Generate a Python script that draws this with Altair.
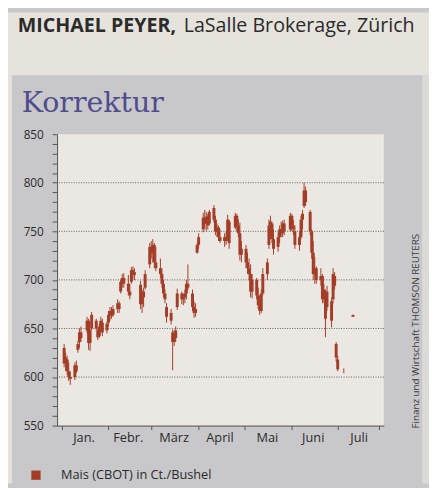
import altair as alt
import pandas as pd

# ---------------- texts ----------------
HEADER_BOLD = "MICHAEL PEYER,"
HEADER_REGULAR = "LaSalle Brokerage, Zürich"
TITLE = "Korrektur"
SOURCE = "Finanz und Wirtschaft THOMSON REUTERS"
SERIES = "Mais (CBOT) in Ct./Bushel"

MONTH_LABELS = ["Jan.", "Febr.", "März", "April", "Mai", "Juni", "Juli"]
LABEL_DATES = ["2011-01-16", "2011-02-14", "2011-03-16", "2011-04-15",
               "2011-05-16", "2011-06-15", "2011-07-15"]
GRID_VALUES = [600, 650, 700, 750, 800]

# ---------------- trading days (2011) ----------------
TRADING_DAYS = {
    1: [3, 4, 5, 6, 7, 10, 11, 12, 13, 14, 18, 19, 20, 21, 24, 25, 26, 27, 28, 31],
    2: [1, 2, 3, 4, 7, 8, 9, 10, 11, 14, 15, 16, 17, 18, 22, 23, 24, 25, 28],
    3: [1, 2, 3, 4, 7, 8, 9, 10, 11, 14, 15, 16, 17, 18, 21, 22, 23, 24, 25, 28, 29, 30, 31],
    4: [1, 4, 5, 6, 7, 8, 11, 12, 13, 14, 15, 18, 19, 20, 21, 25, 26, 27, 28, 29],
    5: [2, 3, 4, 5, 6, 9, 10, 11, 12, 13, 16, 17, 18, 19, 20, 23, 24, 25, 26, 27, 31],
    6: [1, 2, 3, 6, 7, 8, 9, 10, 13, 14, 15, 16, 17, 20, 21, 22, 23, 24, 27, 28, 29, 30],
    7: [1, 5, 11],
}

OPEN = [
    630, 614, 618, 606, 600, 600, 612, 628, 636, 646, 648, 658, 635, 650, 658, 648, 642, 652, 656, 648,
    656, 664, 668, 664, 670, 676, 688, 698, 702, 696, 688, 698, 710, 705, 695, 675, 682, 692, 716,
    734, 728, 736, 718, 712, 706, 696, 686, 672, 666, 646, 636, 640, 672, 686, 680, 682, 686, 696, 686, 672, 666, 728,
    736, 752, 764, 758, 765, 758, 774, 762, 750, 754, 744, 740, 744, 742, 760, 754, 766, 756, 748, 726,
    732, 718, 712, 706, 688, 700, 684, 674, 668, 686, 706, 736, 756, 758, 742, 734, 744, 752, 748, 758, 752,
    766, 756, 750, 736, 744, 762, 776, 792, 770, 750, 728, 706, 712, 700, 704, 680, 684, 672, 678, 680, 704, 634,
    618, 606, 662,
]
HIGH = [
    634, 625, 622, 615, 606, 615, 617, 637, 650, 652, 662, 660, 650, 667, 660, 650, 655, 662, 660, 657,
    668, 672, 672, 674, 680, 678, 700, 706, 707, 705, 696, 713, 714, 712, 699, 690, 692, 710, 738,
    740, 742, 738, 734, 722, 712, 700, 690, 676, 670, 649, 648, 652, 691, 688, 686, 690, 700, 716, 690, 678, 676, 738,
    748, 769, 772, 770, 768, 772, 777, 766, 758, 756, 752, 748, 750, 767, 762, 769, 768, 762, 759, 740,
    736, 728, 722, 716, 706, 702, 692, 684, 690, 712, 722, 762, 766, 760, 752, 749, 756, 760, 761, 762, 769,
    768, 762, 756, 750, 766, 772, 800, 796, 772, 752, 740, 724, 714, 712, 706, 696, 690, 694, 682, 712, 708, 636,
    622, 609, 664,
]
LOW = [
    610, 606, 602, 596, 592, 597, 604, 625, 630, 636, 645, 628, 627, 648, 648, 638, 640, 645, 642, 645,
    652, 658, 660, 662, 666, 666, 686, 692, 692, 684, 680, 696, 701, 700, 670, 666, 672, 690, 712,
    722, 718, 712, 709, 702, 692, 682, 676, 656, 654, 607, 632, 636, 669, 675, 674, 676, 680, 690, 668, 661, 662, 727,
    732, 749, 752, 750, 752, 756, 759, 746, 744, 740, 738, 734, 736, 740, 732, 752, 750, 744, 720, 718,
    712, 706, 700, 682, 681, 680, 670, 664, 666, 684, 700, 732, 742, 738, 726, 729, 738, 744, 744, 746, 750,
    750, 746, 732, 730, 742, 752, 774, 776, 746, 722, 700, 696, 696, 694, 676, 676, 641, 668, 651, 676, 690, 616,
    606, 604, 662,
]
CLOSE = [
    614, 620, 606, 600, 598, 612, 606, 634, 646, 640, 658, 635, 648, 664, 650, 641, 652, 658, 646, 655,
    664, 668, 663, 670, 676, 670, 698, 702, 696, 688, 684, 710, 705, 708, 675, 682, 688, 706, 734,
    728, 736, 718, 712, 706, 696, 686, 680, 662, 658, 636, 644, 648, 686, 680, 682, 686, 696, 692, 672, 666, 670, 736,
    744, 764, 758, 765, 756, 770, 762, 750, 754, 744, 740, 744, 740, 762, 738, 766, 756, 748, 726, 732,
    718, 712, 706, 688, 700, 684, 674, 668, 686, 706, 718, 756, 760, 742, 732, 744, 752, 748, 758, 750, 766,
    756, 752, 736, 744, 762, 768, 792, 780, 750, 728, 706, 712, 700, 704, 680, 690, 660, 688, 658, 706, 694, 620,
    608, 606, 664,
]

dates = [f"2011-{m:02d}-{d:02d}" for m, days in TRADING_DAYS.items() for d in days]
df = pd.DataFrame({"date": dates, "open": OPEN, "high": HIGH, "low": LOW,
                   "close": CLOSE, "series": SERIES})

# ---------------- style ----------------
BEIGE = "#e6e2dc"
GREY = "#c8c8ca"
PLOT_BG = "#ebe7e2"
STRIP = "#dcdad6"
RED = "#a33d27"
DARK = "#2b2b2b"
AXIS = "#555555"
FONT = "Open Sans"

W, H = 333, 297

x_scale = alt.Scale(type="utc", domain=[
    alt.DateTime(year=2011, month=1, date=1, hours=14, utc=True),
    alt.DateTime(year=2011, month=7, date=28, utc=True)])
y_scale = alt.Scale(domain=[550, 850], nice=False, zero=False)

x_ticks = [alt.DateTime(year=2011, month=1, date=1, hours=14, utc=True)] + \
    [alt.DateTime(year=2011, month=m, date=1, utc=True) for m in range(2, 8)] + \
    [alt.DateTime(year=2011, month=7, date=28, utc=True)]

x_axis = alt.Axis(values=x_ticks, labels=False, tickSize=4, tickColor=AXIS,
                  domainColor=AXIS, grid=False, title=None, zindex=1)
y_axis = alt.Axis(values=list(range(550, 851, 10)),
                  labelExpr="datum.value % 50 === 0 ? datum.label : ''",
                  labelOverlap=False, labelBound=False,
                  tickSize=5, tickWidth=1, tickColor=AXIS, domainColor=AXIS,
                  labelPadding=9, labelFont=FONT, labelFontSize=12, labelColor=DARK,
                  grid=False, title=None, zindex=1)

one = pd.DataFrame({"k": [0]})


def rect(color, x, x2, y, y2):
    return alt.Chart(one).mark_rect(color=color).encode(
        x=alt.value(x), x2=alt.value(x2), y=alt.value(y), y2=alt.value(y2))


def label(text, x, y, **kw):
    return alt.Chart(pd.DataFrame({"t": [text]})).mark_text(**kw).encode(
        text="t:N", x=alt.value(x), y=alt.value(y))


header_bg = rect(BEIGE, -50, 379, -124, -60)
left_strip = rect(BEIGE, -50, -46, -60, 356)
right_strip = rect(STRIP, 372, 379, -60, 356)
plot_bg = rect(PLOT_BG, 0, W, 0, H)

grid = alt.Chart(pd.DataFrame({"v": GRID_VALUES})).mark_rule(
    color="#5e5e5e", strokeDash=[1, 1.5], strokeWidth=1).encode(
    y=alt.Y("v:Q", scale=y_scale, axis=y_axis))

base = alt.Chart(df)
wicks = base.mark_rule(color=RED, strokeWidth=1).encode(
    x=alt.X("date:T", scale=x_scale, axis=x_axis),
    y=alt.Y("low:Q", scale=y_scale, axis=y_axis),
    y2="high:Q")
bodies = base.mark_bar(size=3).encode(
    x=alt.X("date:T", scale=x_scale, axis=x_axis),
    y=alt.Y("open:Q", scale=y_scale, axis=y_axis),
    y2="close:Q",
    color=alt.Color("series:N", scale=alt.Scale(range=[RED]),
                    legend=alt.Legend(orient="none", legendX=-28, legendY=341,
                                      title=None, padding=0, symbolType="square",
                                      symbolSize=90, symbolStrokeWidth=0,
                                      labelFont=FONT, labelFontSize=13,
                                      labelColor=DARK, labelOffset=19)))

months = alt.Chart(pd.DataFrame({"date": LABEL_DATES, "label": MONTH_LABELS})).mark_text(
    baseline="middle", align="center", font=FONT, fontSize=13, color=DARK).encode(
    x=alt.X("date:T", scale=x_scale, axis=x_axis), y=alt.value(310), text="label:N")

head_b = label(HEADER_BOLD, -40, -104, align="left", baseline="alphabetic", font=FONT,
               fontSize=20, fontWeight="bold", color=DARK)
head_r = label(HEADER_REGULAR, 129, -104, align="left", baseline="alphabetic", font=FONT,
               fontSize=20, color=DARK)
title = label(TITLE, -36, -23, align="left", baseline="alphabetic", font="DejaVu Serif",
              fontSize=29, color="#4f4d8e")
source = label(SOURCE, 366, 300, align="left", baseline="middle", angle=270, font=FONT,
               fontSize=10, color="#3a3a3a")

chart = alt.layer(
    header_bg, left_strip, right_strip, plot_bg, grid, wicks, bodies,
    months, head_b, head_r, title, source
).properties(
    width=W, height=H,
    autosize=alt.AutoSizeParams(type="none"),
    padding={"left": 50, "top": 124, "right": 46, "bottom": 59},
    background=GREY,
).configure_view(strokeWidth=0).configure_axis(labelOverlap=False)

chart.save("out.html", embed_options={"renderer": "svg", "actions": False})
